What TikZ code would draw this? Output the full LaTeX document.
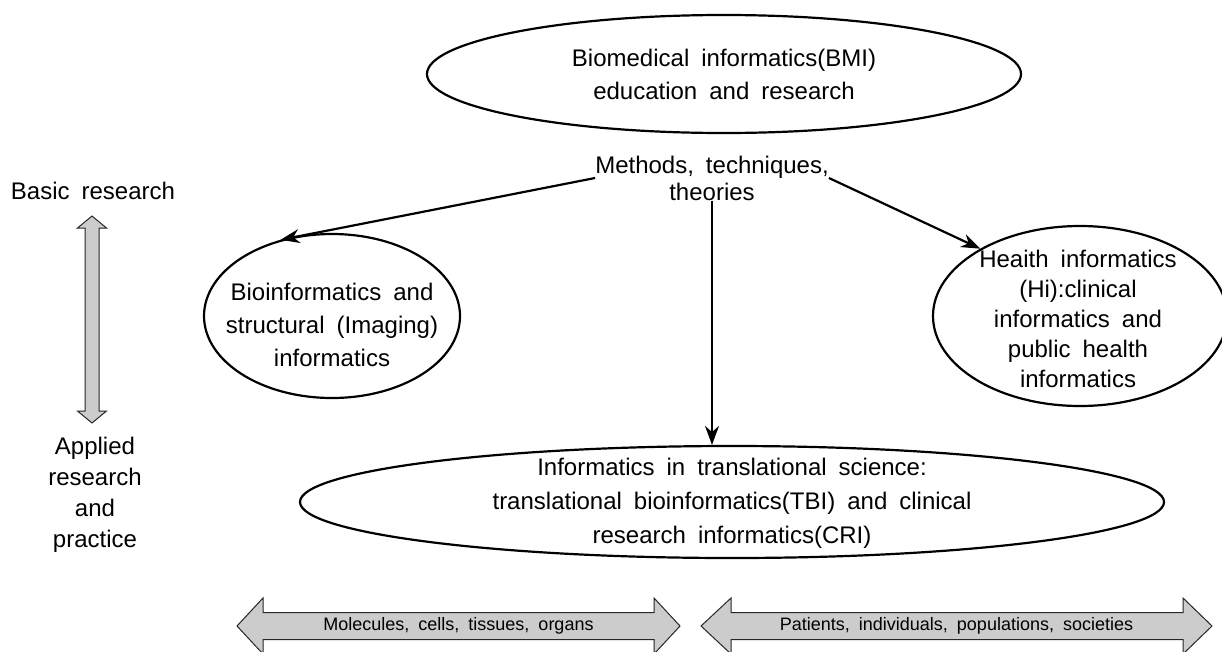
\documentclass[tikz,border=0pt]{standalone}
\usepackage{fontspec}
\setmainfont{Liberation Sans}[WordSpace=1.8]
\usetikzlibrary{arrows.meta,shapes.geometric,calc}
\begin{document}
\begin{tikzpicture}[x=1pt,y=-1pt,
  oval/.style={ellipse,draw,line width=2.2pt,inner sep=0pt},
  txt/.style={align=center,inner sep=0pt,font=\fontsize{24}{33}\selectfont},
  lbl/.style={align=center,inner sep=0pt,font=\fontsize{24}{31}\selectfont},
  conn/.style={line width=2.2pt,-{Stealth[length=19pt,width=14pt]}},
  grayarrow/.style={draw=black!85,fill=black!20,line width=1pt,line join=miter},
  small/.style={inner sep=0pt,font=\fontsize{18}{20}\selectfont}]
\useasboundingbox (0,0) rectangle (1222,651);

% ellipses
\node[oval,minimum width=594pt,minimum height=118pt] (bmi) at (724,74) {};
\node[txt] (bmit) at (724,74) {Biomedical informatics(BMI)\\education and research};
\node[lbl,font=\fontsize{24}{27}\selectfont] (meth) at (712,178)
  {Methods, techniques,\\theories};
\node[oval,minimum width=256pt,minimum height=164pt] (bio) at (332,316) {};
\node[txt] (biot) at (332,325) {Bioinformatics and\\structural (Imaging)\\informatics};
\node[oval,minimum width=294pt,minimum height=180pt] (hi) at (1080,316) {};
\node[txt,font=\fontsize{24}{30}\selectfont] (hit) at (1078,319)
  {Heaith informatics\\(Hi):clinical\\informatics and\\public health\\informatics};
\node[oval,minimum width=864pt,minimum height=112pt] (trans) at (732,502) {};
\node[txt,font=\fontsize{24}{34}\selectfont] (transt) at (732,503)
  {Informatics in translational science:\\translational bioinformatics(TBI) and clinical\\research informatics(CRI)};

% connectors
\draw[conn] (meth.west) -- (bio.124);
\draw[conn] (meth.east) -- (hi.146);
\draw[conn] (meth.south) -- (meth.south |- trans.north);

% left scale
\node[lbl] (basic) at (93,191) {Basic research};
\node[lbl] (applied) at (95,495) {Applied\\research\\and\\practice};
\coordinate (vt) at (92,216);
\coordinate (vb) at (92,423);
\draw[grayarrow] (vt) -- ++(14.5,12) -- ++(-7.5,0) -- ($(vb)+(7,-12)$) -- ++(7.5,0) -- (vb)
  -- ++(-14.5,-12) -- ++(7.5,0) -- ($(vt)+(-7,12)$) -- ++(-7.5,0) -- cycle;

% bottom arrows
\coordinate (al) at (237,626);
\coordinate (ar) at (680,626);
\draw[grayarrow] (al) -- ++(26,-28) -- ++(0,14.5) -- ($(ar)+(-26,-13.5)$) -- ++(0,-14.5) -- (ar)
  -- ++(-26,28) -- ++(0,-14.5) -- ($(al)+(26,13.5)$) -- ++(0,14.5) -- cycle;
\node[small] (mol) at ($(al)!0.5!(ar)$) {Molecules, cells, tissues, organs};
\coordinate (bl) at (701,626);
\coordinate (br) at (1212,626);
\draw[grayarrow] (bl) -- ++(30,-28) -- ++(0,14.5) -- ($(br)+(-29,-13.5)$) -- ++(0,-14.5) -- (br)
  -- ++(-29,28) -- ++(0,-14.5) -- ($(bl)+(30,13.5)$) -- ++(0,14.5) -- cycle;
\node[small] (pat) at ($(bl)!0.5!(br)$) {Patients, individuals, populations, societies};
\end{tikzpicture}
\end{document}
